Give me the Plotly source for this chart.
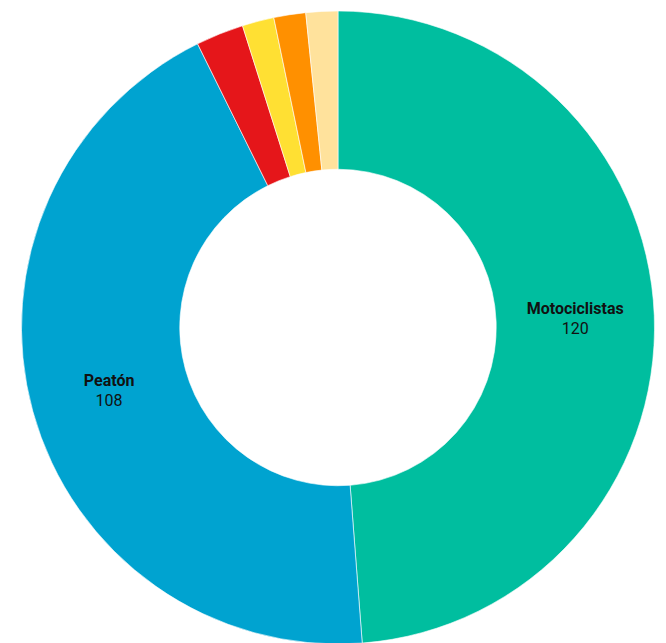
import plotly.graph_objects as go

categories = ["Motociclistas", "Peatón", "Ciclistas", "Conductor", "Pasajero", "Otros"]
values = [120, 108, 6, 4, 4, 4]
colors = ["#00BE9F", "#00A3D0", "#E5161A", "#FFE033", "#FF9000", "#FFE29C"]
labeled = [True, True, False, False, False, False]

texts = [f"<b>{c}</b><br>{v}" if show else "" for c, v, show in zip(categories, values, labeled)]

fig = go.Figure(go.Pie(
    labels=categories,
    values=values,
    text=texts,
    textinfo="text",
    textposition="inside",
    insidetextorientation="horizontal",
    hole=0.5,
    sort=False,
    direction="clockwise",
    rotation=0,
    marker=dict(colors=colors, line=dict(color="white", width=0.6)),
    textfont=dict(family="Roboto", size=16, color="#111111"),
    hovertemplate="%{label}: %{value}<extra></extra>",
))

fig.update_layout(
    width=666,
    height=643,
    margin=dict(l=13, r=19, t=3, b=7),
    showlegend=False,
    paper_bgcolor="white",
    plot_bgcolor="white",
    uniformtext=dict(minsize=10),
)

fig.write_html("out.html")
